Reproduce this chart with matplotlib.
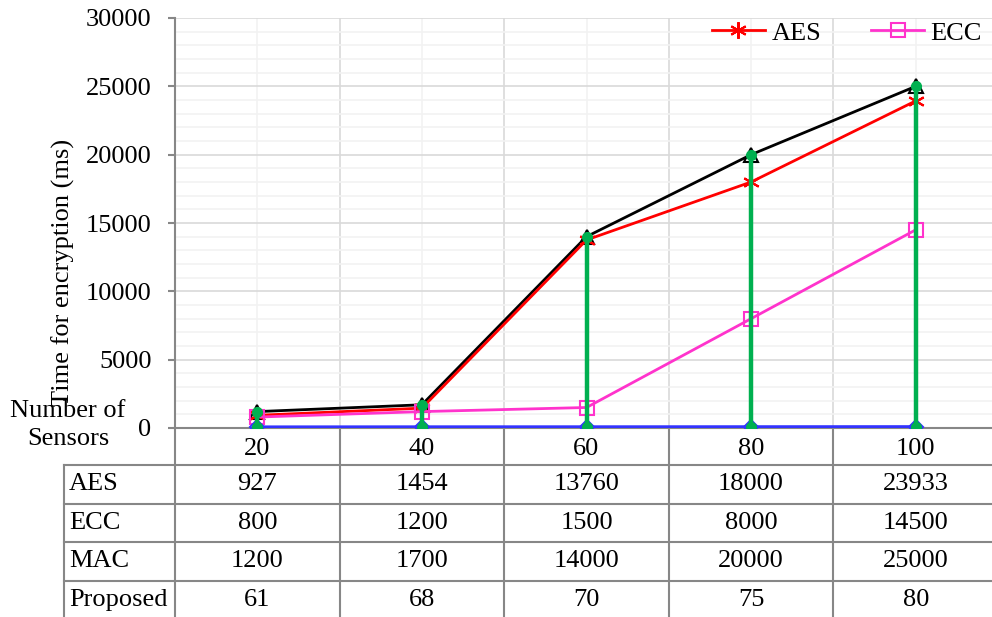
import numpy as np
import matplotlib.pyplot as plt
from matplotlib.ticker import MultipleLocator

plt.rcParams['font.family'] = ['Liberation Serif', 'DejaVu Serif']

# Data
sensors = ['20', '40', '60', '80', '100']
aes = [927, 1454, 13760, 18000, 23933]
ecc = [800, 1200, 1500, 8000, 14500]
mac = [1200, 1700, 14000, 20000, 25000]
proposed = [61, 68, 70, 75, 80]
row_names = ['AES', 'ECC', 'MAC', 'Proposed']
rows = [aes, ecc, mac, proposed]

# Layout (pixels of the 992x617 canvas)
W, H = 992, 617
FS = 19
grid_major = '#D9D9D9'
grid_minor = '#F2F2F2'
table_col = '#878787'
green = '#00B050'

fig = plt.figure(figsize=(W / 100, H / 100), dpi=100)

# plot area: x 175..998 px, y 18..428 px
x0, x1, y_top, y_bot = 175, 998, 18, 428
ax = fig.add_axes([x0 / W, 1 - y_bot / H, (x1 - x0) / W, (y_bot - y_top) / H])

x = np.arange(1, len(sensors) + 1)

ax.plot(x, mac, color='black', lw=2, marker='^', ms=10, mfc='none', mec='black', mew=1.5, zorder=3, label='MAC')
ax.plot(x, aes, color='red', lw=2, marker=(6, 2, 0), ms=12, mec='red', mew=1.5, zorder=4, label='AES')
ax.plot(x, ecc, color='#FF33CC', lw=2, marker='s', ms=10, mfc='none', mec='#FF33CC', mew=1.5, zorder=4, label='ECC')
ax.plot(x, proposed, color='#3333FF', lw=2.5, marker='D', ms=7, mfc='none', mec='#3333FF', mew=1.5, zorder=4, label='Proposed')

# high-low lines
ax.vlines(x, proposed, mac, color=green, lw=3.2, zorder=5)
ax.plot(x, mac, ls='none', marker='o', ms=7, color=green, zorder=6)
ax.plot(x, proposed, ls='none', marker='o', ms=7, color=green, zorder=6)

ax.set_xlim(0.5, len(sensors) + 0.5)
ax.set_ylim(0, 30000)
ax.yaxis.set_major_locator(MultipleLocator(5000))
ax.yaxis.set_minor_locator(MultipleLocator(1000))
ax.set_xticks(x)
ax.set_xticklabels(sensors)
ax.set_xticks(np.arange(1.5, len(sensors)), minor=True)
ax.grid(True, which='major', axis='y', color=grid_major, lw=1.2)
ax.grid(True, which='minor', axis='y', color=grid_minor, lw=1.2)
ax.grid(True, which='minor', axis='x', color=grid_major, lw=1.2)
ax.grid(True, which='major', axis='x', color=grid_minor, lw=1.2)
ax.set_axisbelow(True)

for s in ['top', 'right']:
    ax.spines[s].set_visible(False)
for s in ['left', 'bottom']:
    ax.spines[s].set_color(table_col)
    ax.spines[s].set_linewidth(1.5)

ax.tick_params(axis='y', which='major', length=5, width=1.5, color=table_col, pad=12, labelsize=FS)
ax.tick_params(axis='y', which='minor', length=0)
ax.tick_params(axis='x', which='both', length=0, pad=7, labelsize=FS)

# legend (only AES and ECC fit on the canvas)
handles, labels = ax.get_legend_handles_labels()
keep = [labels.index('AES'), labels.index('ECC')]
fig.legend([handles[i] for i in keep], [labels[i] for i in keep],
           loc='center left', bbox_to_anchor=(712 / W, 1 - 33 / H),
           ncol=2, frameon=False, fontsize=FS, borderpad=0, borderaxespad=0,
           handlelength=2.0, handletextpad=0.25, columnspacing=1.9)

# y label and category title
fig.text(63 / W, 1 - 272 / H, 'Time for encryption (ms)', rotation=90,
         ha='center', va='center', fontsize=FS)
fig.text(68 / W, 1 - 425 / H, 'Number of\nSensors', ha='center', va='center',
         fontsize=FS, linespacing=1.3)

# data table drawn on an overlay in pixel coordinates
tab = fig.add_axes([0, 0, 1, 1], zorder=-1)
tab.set_xlim(0, W)
tab.set_ylim(H, 0)
tab.axis('off')

col_w = (x1 - x0) / len(sensors)
row_top = 465
row_h = 38.5
left = 64
for i in range(len(sensors) + 1):
    xc = x0 + i * col_w
    tab.plot([xc, xc], [y_bot, H], color=table_col, lw=1.5)
tab.plot([left, left], [row_top, H], color=table_col, lw=1.5)
for r in range(len(rows)):
    yy = row_top + r * row_h
    tab.plot([left, W], [yy, yy], color=table_col, lw=1.5)

for r, (name, vals) in enumerate(zip(row_names, rows)):
    yc = row_top + (r + 0.5) * row_h
    tab.text(left + 5, yc, name, ha='left', va='center', fontsize=FS)
    for i, v in enumerate(vals):
        tab.text(x0 + (i + 0.5) * col_w, yc, str(v), ha='center', va='center', fontsize=FS)

fig.savefig('out.png', dpi=100)
